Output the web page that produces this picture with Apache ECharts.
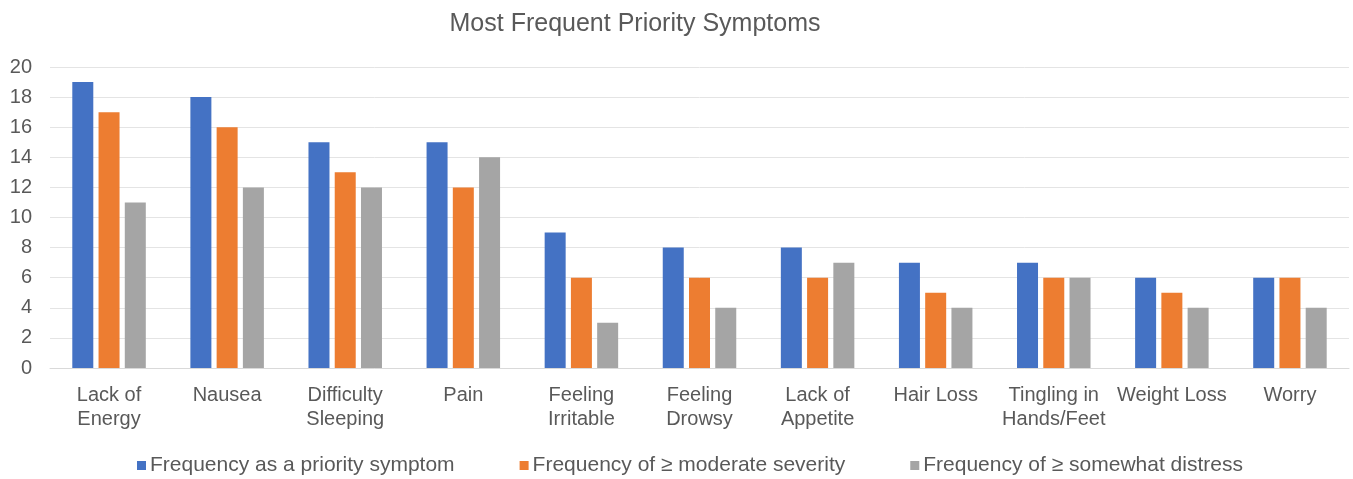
<!DOCTYPE html>
<html lang="en">
<head>
    <meta charset="UTF-8">
    <title>Most Frequent Priority Symptoms</title>
    <script src="https://cdn.jsdelivr.net/npm/echarts@6.0.0/dist/echarts.min.js"></script>
    <style>
        html, body { margin: 0; padding: 0; background: #fff; }
    </style>
</head>
<body>
    <div id="myChart" style="width: 1353px; height: 479px;"></div>
    <script>
        // categories (line breaks as in the original labels)
        const symptoms = [
            'Lack of\nEnergy', 'Nausea', 'Difficulty\nSleeping', 'Pain', 'Feeling\nIrritable',
            'Feeling\nDrowsy', 'Lack of\nAppetite', 'Hair Loss', 'Tingling in\nHands/Feet',
            'Weight Loss', 'Worry'
        ];
        const seriesNames = [
            'Frequency as a priority symptom',
            'Frequency of \u2265 moderate severity',
            'Frequency of \u2265 somewhat distress'
        ];
        const priority = [19, 18, 15, 15, 9, 8, 8, 7, 7, 6, 6];
        const moderate = [17, 16, 13, 12, 6, 6, 6, 5, 6, 5, 6];
        const distress = [11, 12, 12, 14, 3, 4, 7, 4, 6, 4, 4];

        const colors = ['#4472C4', '#ED7D31', '#A5A5A5'];
        const font = 'Liberation Sans, Arial, sans-serif';

        const myChart = echarts.init(document.getElementById('myChart'));

        const option = {
            animation: false,
            color: colors,
            title: {
                text: 'Most Frequent Priority Symptoms',
                left: 630, top: 7, textAlign: 'center',
                textStyle: { fontFamily: font, fontSize: 25, fontWeight: 'normal', color: '#595959' }
            },
            legend: {
                top: 450, left: 132,
                itemWidth: 9, itemHeight: 9, itemGap: 65,
                icon: 'rect',
                textStyle: { fontFamily: font, fontSize: 21, color: '#595959', padding: [0, 0, 0, -1] },
                data: seriesNames
            },
            grid: { left: 50, right: 4, top: 67, bottom: 111 },
            xAxis: {
                type: 'category',
                data: symptoms,
                axisTick: { show: false },
                axisLine: { lineStyle: { color: '#D9D9D9' } },
                axisLabel: {
                    interval: 0, margin: 15, lineHeight: 24,
                    fontFamily: font, fontSize: 20, color: '#595959'
                }
            },
            yAxis: {
                type: 'value',
                min: 0, max: 20, interval: 2,
                axisLine: { show: false },
                axisTick: { show: false },
                splitLine: { lineStyle: { color: '#E4E4E4' } },
                axisLabel: { margin: 18, fontFamily: font, fontSize: 20, color: '#595959' }
            },
            series: [
                { name: seriesNames[0], type: 'bar', data: priority, barWidth: 21, barGap: '25%' },
                { name: seriesNames[1], type: 'bar', data: moderate, barWidth: 21, barGap: '25%' },
                { name: seriesNames[2], type: 'bar', data: distress, barWidth: 21, barGap: '25%' }
            ]
        };
        myChart.setOption(option);
    </script>
</body>
</html>
